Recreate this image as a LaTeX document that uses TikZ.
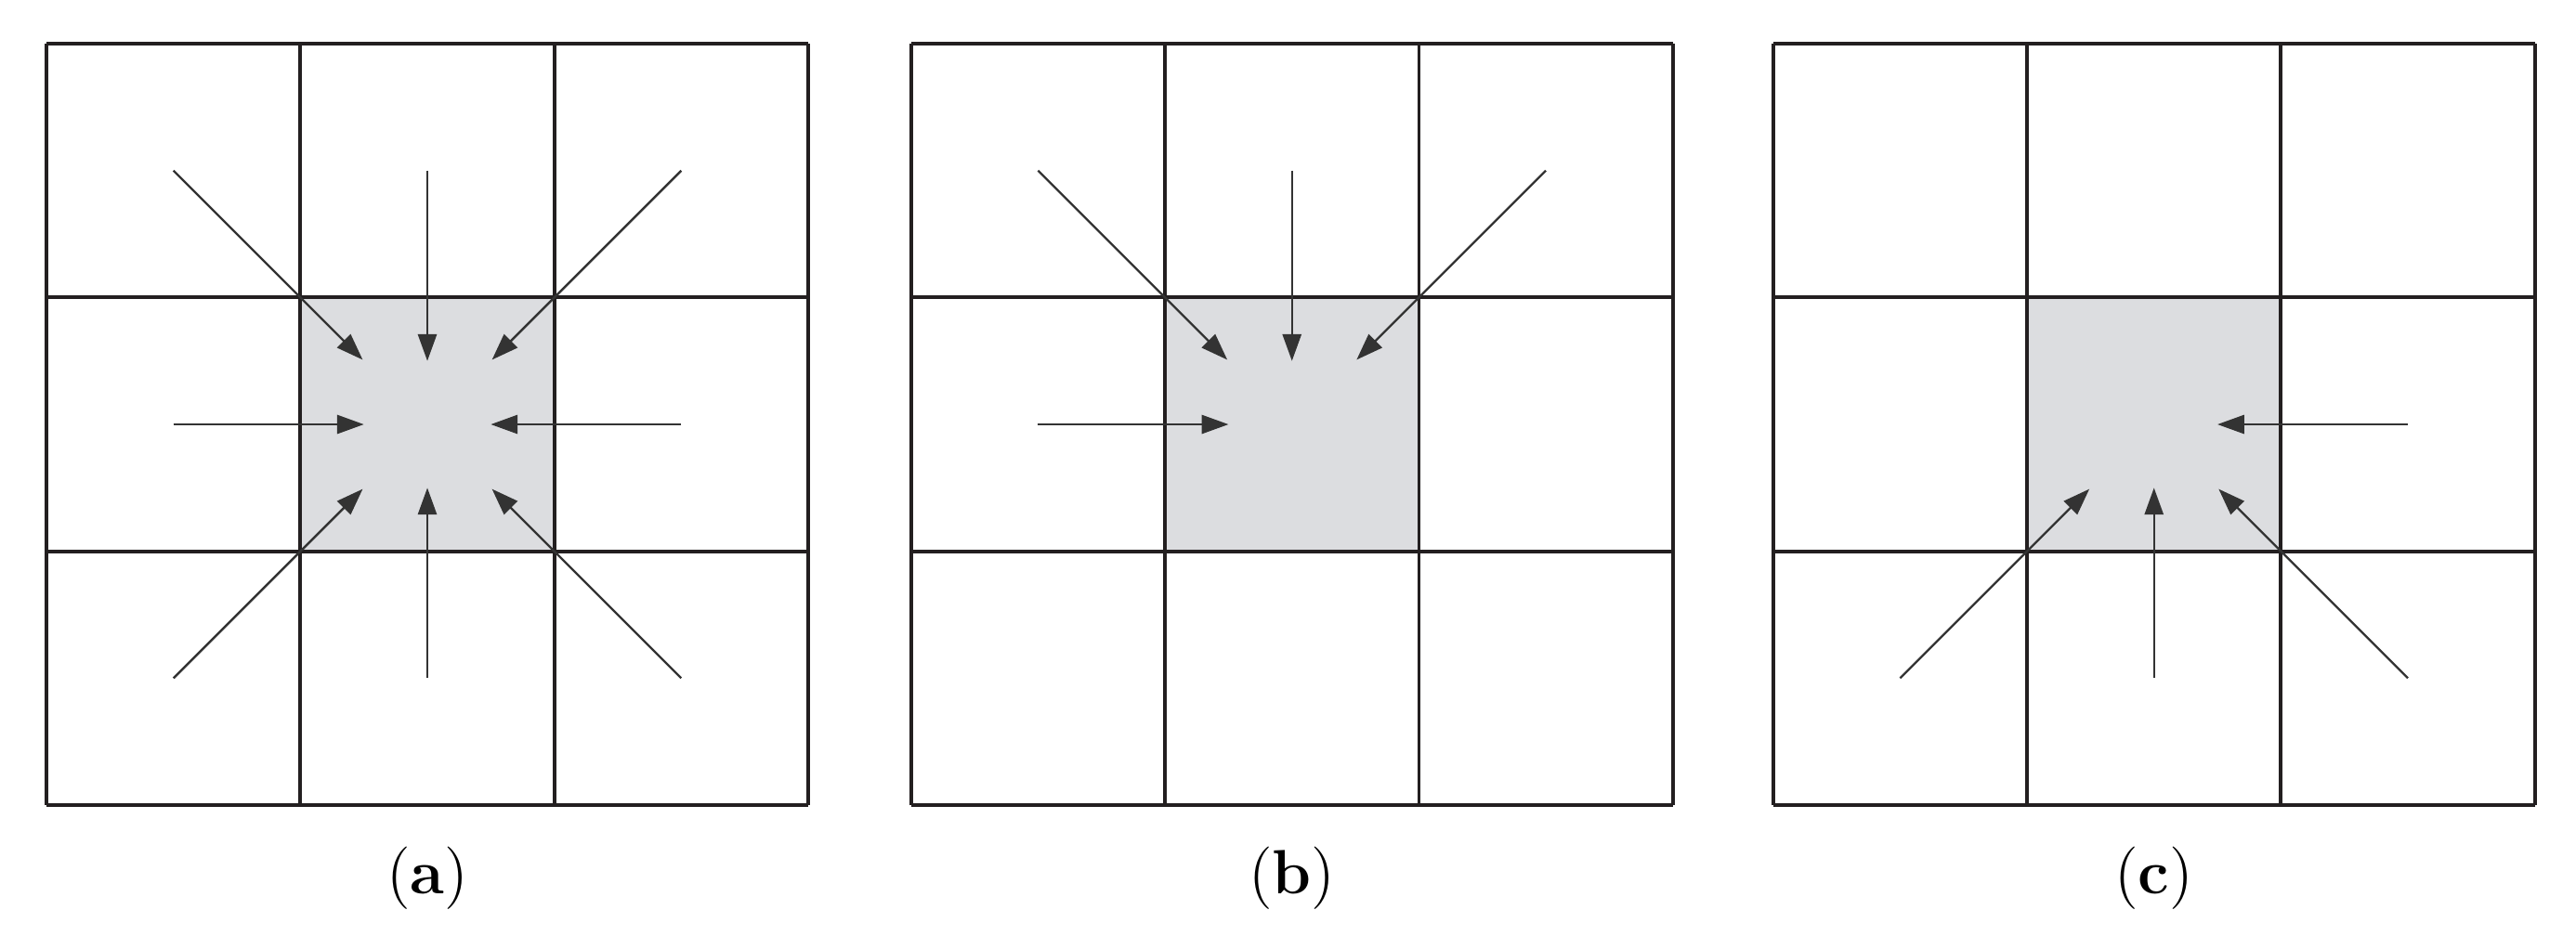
\documentclass[tikz,border=0pt]{standalone}
\usepackage{tikz}
\usetikzlibrary{arrows.meta}
\usetikzlibrary{positioning}

\definecolor{cellshade}{HTML}{DCDDE0}
\definecolor{gridink}{HTML}{231F20}
\definecolor{flowink}{HTML}{333333}

\tikzset{
  panelgrid/.style={draw=gridink,line width=0.8pt,step=2},
  flow/.style={draw=flowink,line width=0.5pt,-{Triangle[length=6pt,width=4.2pt]}},
  flowstraight/.style={flow,shorten >=0.5cm},
  flowdiag/.style={flow,shorten >=0.72cm},
  caption/.style={anchor=base,font=\fontsize{14}{16}\selectfont},
}

\begin{document}
\begin{tikzpicture}
\useasboundingbox (-0.366,-1.127) rectangle (19.924,6.344);

% (a) all eight neighbours
\begin{scope}
\fill[cellshade] (2,2) rectangle (4,4);
\draw[panelgrid] (0,0) grid (6,6);
\foreach \n/\x/\y in {nw/1/5,n/3/5,ne/5/5,w/1/3,c/3/3,e/5/3,sw/1/1,s/3/1,se/5/1}
  \coordinate (a-\n) at (\x,\y);
\foreach \n in {nw,ne,sw,se}
  \draw[flowdiag] (a-\n) -- (a-c);
\foreach \n in {n,w,e,s}
  \draw[flowstraight] (a-\n) -- (a-c);
\coordinate (a-bot) at (3,0);
\node[caption,below=0.695cm of a-bot,anchor=base] (a-lab) {(\textbf{a})};
\end{scope}

% (b) upper and left neighbours
\begin{scope}[xshift=6.81cm]
\fill[cellshade] (2,2) rectangle (4,4);
\draw[panelgrid] (0,0) grid (6,6);
\foreach \n/\x/\y in {nw/1/5,n/3/5,ne/5/5,w/1/3,c/3/3}
  \coordinate (b-\n) at (\x,\y);
\foreach \n in {nw,ne}
  \draw[flowdiag] (b-\n) -- (b-c);
\foreach \n in {n,w}
  \draw[flowstraight] (b-\n) -- (b-c);
\coordinate (b-bot) at (3,0);
\node[caption,below=0.695cm of b-bot,anchor=base] (b-lab) {(\textbf{b})};
\end{scope}

% (c) lower and right neighbours
\begin{scope}[xshift=13.6cm]
\fill[cellshade] (2,2) rectangle (4,4);
\draw[panelgrid] (0,0) grid (6,6);
\foreach \n/\x/\y in {e/5/3,c/3/3,sw/1/1,s/3/1,se/5/1}
  \coordinate (c-\n) at (\x,\y);
\foreach \n in {sw,se}
  \draw[flowdiag] (c-\n) -- (c-c);
\foreach \n in {e,s}
  \draw[flowstraight] (c-\n) -- (c-c);
\coordinate (c-bot) at (3,0);
\node[caption,below=0.695cm of c-bot,anchor=base] (c-lab) {(\textbf{c})};
\end{scope}
\end{tikzpicture}
\end{document}
